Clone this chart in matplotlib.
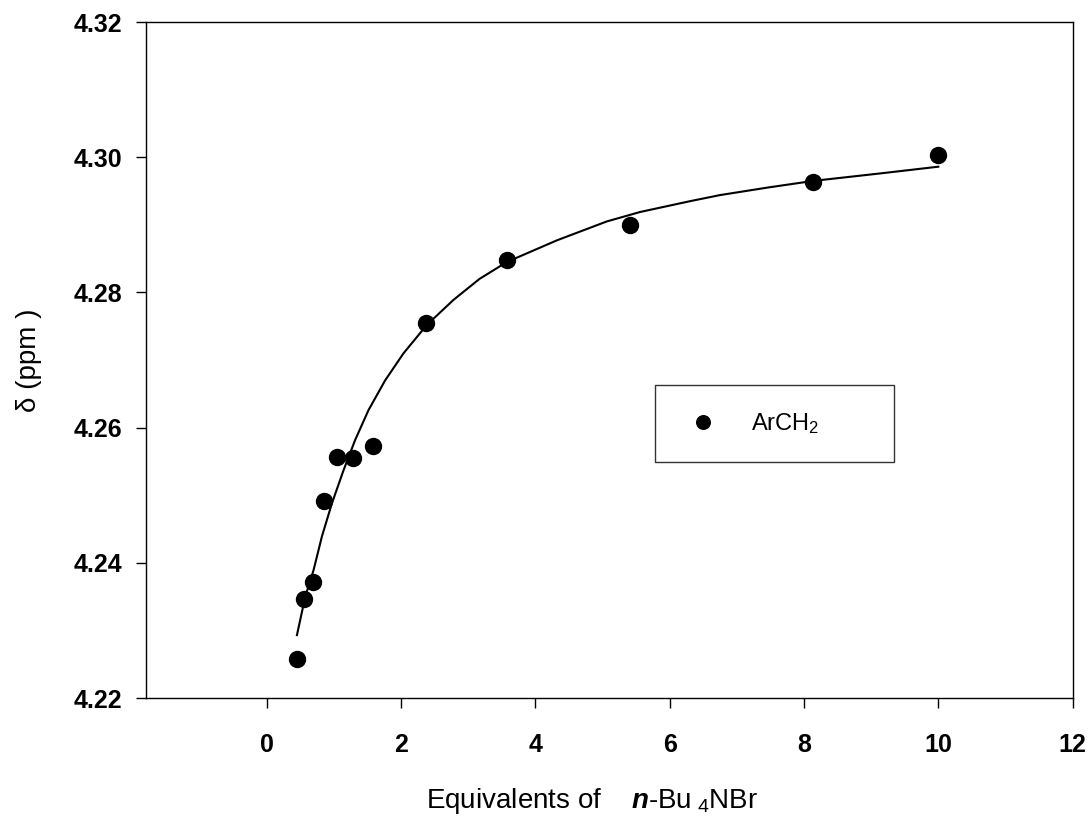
import matplotlib as mpl
import matplotlib.pyplot as plt

mpl.rcParams['font.family'] = ['Liberation Sans', 'DejaVu Sans']
mpl.rcParams['mathtext.fontset'] = 'custom'
mpl.rcParams['mathtext.rm'] = 'Liberation Sans'
mpl.rcParams['mathtext.it'] = 'Liberation Sans:italic:bold'
mpl.rcParams['mathtext.bf'] = 'Liberation Sans:bold'

# measured points (equivalents of n-Bu4NBr, shift in ppm)
equiv = [0.45, 0.56, 0.69, 0.85, 1.05, 1.28, 1.58, 2.38, 3.58, 5.41, 8.14, 10.0]
shift = [4.2258, 4.2346, 4.2372, 4.2491, 4.2557, 4.2555, 4.2573,
         4.2755, 4.2848, 4.2900, 4.2963, 4.3003]

# fitted curve
fit_x = [0.452, 0.576, 0.699, 0.824, 0.973, 1.146, 1.320, 1.518, 1.766,
         2.039, 2.387, 2.783, 3.170, 3.577, 4.321, 5.065, 5.561, 6.305,
         6.751, 7.450, 8.140, 9.132, 10.0]
fit_y = [4.2293, 4.2350, 4.2389, 4.2439, 4.2488, 4.2537, 4.2582, 4.2626,
         4.2670, 4.2710, 4.2752, 4.2789, 4.2820, 4.2845, 4.2877, 4.2905,
         4.2919, 4.2935, 4.2944, 4.2955, 4.2965, 4.2976, 4.2986]

x_ticks = [0, 2, 4, 6, 8, 10, 12]
y_ticks = [4.22, 4.24, 4.26, 4.28, 4.30, 4.32]

fig = plt.figure(figsize=(10.91, 8.16), dpi=100)
ax = fig.add_axes([0.1335, 0.1446, 0.8497, 0.8284])

ax.plot(fit_x, fit_y, '-', color='black', lw=1.5, solid_joinstyle='round')
ax.plot(equiv, shift, 'o', color='black', markersize=11.5, linestyle='none',
        label='ArCH$_2$' + '\u2003\u2003\u2009')

ax.set_xlim(-1.8, 12)
ax.set_ylim(4.22, 4.32)
ax.set_xticks(x_ticks)
ax.set_yticks(y_ticks)
ax.set_xticklabels([str(t) for t in x_ticks], fontsize=18, fontweight='bold')
ax.set_yticklabels(['%.2f' % t for t in y_ticks], fontsize=18, fontweight='bold')
ax.tick_params(axis='x', direction='out', length=7, width=1, pad=18)
ax.tick_params(axis='y', direction='out', length=7, width=1, pad=10)
for s in ax.spines.values():
    s.set_linewidth(1)

ax.set_xlabel('Equivalents of    $\\it{n}$-Bu$_{\\ 4}$NBr', fontsize=20)
ax.xaxis.set_label_coords(0.4815, -0.13)
ax.set_ylabel('\u03b4 (ppm )', fontsize=20)
ax.yaxis.set_label_coords(-0.112, 0.5)

leg = ax.legend(loc='upper left', bbox_to_anchor=(0.549, 0.463), fontsize=17,
                frameon=True, fancybox=False, borderpad=1.1, handlelength=1.9,
                handletextpad=1.1, borderaxespad=0, markerscale=0.85)
leg.get_frame().set_edgecolor('black')
leg.get_frame().set_linewidth(1)

fig.savefig('out.png', dpi=100)
